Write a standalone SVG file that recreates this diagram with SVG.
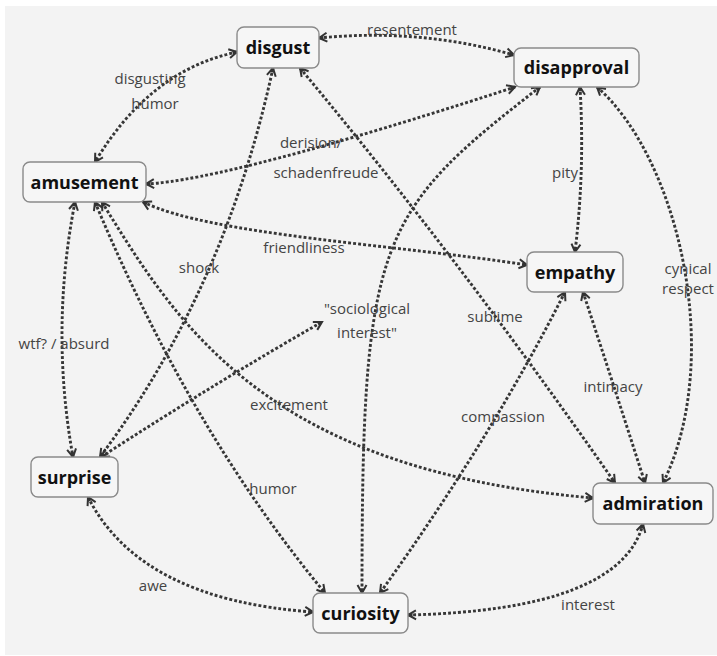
<svg xmlns="http://www.w3.org/2000/svg" width="717" height="656" viewBox="0 0 717 656">
<defs>
<marker id="ah" viewBox="-10 -6 12 12" markerWidth="12" markerHeight="12" refX="0" refY="0" orient="auto-start-reverse" markerUnits="userSpaceOnUse">
<path d="M-8,-4.5 L0,0 L-8,4.5" fill="none" stroke="#333" stroke-width="2"/>
<path d="M-4.5,-2 L0,0 L-4.5,2 Z" fill="#333"/>
</marker>
<style>
.bg{fill:#f3f3f3}
.node rect{fill:#f6f6f6;stroke:#8a8a8a;stroke-width:1.4}
.node text{font-family:"Open Sans","Noto Sans","Liberation Sans",sans-serif;font-weight:bold;font-size:18px;fill:#111;text-anchor:middle}
.edge{fill:none;stroke:#363636;stroke-width:2.9;stroke-dasharray:2.9 2.1;marker-start:url(#ah);marker-end:url(#ah)}
.lbl{font-family:"Open Sans","Noto Sans","Liberation Sans",sans-serif;font-size:15px;fill:#444;text-anchor:middle}
</style>
</defs>
<rect class="bg" x="5" y="6" width="712" height="649"/>
<g id="connectors">
<path class="edge" d="M237,52 Q150,70 95,162"/>
<path class="edge" d="M319,38 Q420,28 514,55"/>
<path class="edge" d="M146,184 Q229,180 515,87"/>
<path class="edge" d="M143,202 C210,235 400,245 527,265"/>
<path class="edge" d="M273,68 Q225,290 100,457"/>
<path class="edge" d="M75,202 Q50,330 73,457"/>
<path class="edge" d="M95,202 Q190,430 325,593"/>
<path class="edge" d="M102,202 C180,330 270,470 593,498"/>
<path class="edge" d="M101,457 Q220,380 322,322"/>
<path class="edge" d="M300,68 Q460,260 615,483"/>
<path class="edge" d="M540,87 C377,213 362,240 362,593"/>
<path class="edge" d="M580,87 Q585,170 575,252"/>
<path class="edge" d="M597,87 C680,160 724,360 663,483"/>
<path class="edge" d="M565,292 Q490,440 380,593"/>
<path class="edge" d="M583,292 Q612,380 645,483"/>
<path class="edge" d="M88,497 Q140,600 313,612"/>
<path class="edge" d="M408,615 Q620,610 643,524"/>
</g>
<g id="labels">
<text class="lbl" x="150" y="84">disgusting</text>
<text class="lbl" x="155" y="109">humor</text>
<text class="lbl" x="412" y="35">resentement</text>
<text class="lbl" x="311" y="148">derision/</text>
<text class="lbl" x="326" y="178">schadenfreude</text>
<text class="lbl" x="304" y="253">friendliness</text>
<text class="lbl" x="199" y="273">shock</text>
<text class="lbl" x="64" y="349">wtf? / absurd</text>
<text class="lbl" x="273" y="494">humor</text>
<text class="lbl" x="289" y="410">excitement</text>
<text class="lbl" x="367" y="314">"sociological</text>
<text class="lbl" x="367" y="338">interest"</text>
<text class="lbl" x="495" y="322">sublime</text>
<text class="lbl" x="565" y="178">pity</text>
<text class="lbl" x="688" y="274">cynical</text>
<text class="lbl" x="688" y="294">respect</text>
<text class="lbl" x="503" y="422">compassion</text>
<text class="lbl" x="613" y="392">intimacy</text>
<text class="lbl" x="153" y="591">awe</text>
<text class="lbl" x="588" y="610">interest</text>
</g>
<g id="disgust" class="node"><rect x="237" y="27" width="82" height="41" rx="7"/><text x="278" y="54">disgust</text></g>
<g id="disapproval" class="node"><rect x="514" y="48" width="125" height="39" rx="7"/><text x="576.5" y="74">disapproval</text></g>
<g id="amusement" class="node"><rect x="23" y="162" width="123" height="40" rx="7"/><text x="84.5" y="189">amusement</text></g>
<g id="empathy" class="node"><rect x="527" y="252" width="96" height="40" rx="7"/><text x="575" y="279">empathy</text></g>
<g id="surprise" class="node"><rect x="31" y="457" width="87" height="40" rx="7"/><text x="74.5" y="484">surprise</text></g>
<g id="curiosity" class="node"><rect x="313" y="593" width="95" height="40" rx="7"/><text x="360.5" y="620">curiosity</text></g>
<g id="admiration" class="node"><rect x="593" y="483" width="120" height="41" rx="7"/><text x="653" y="510">admiration</text></g>
</svg>
